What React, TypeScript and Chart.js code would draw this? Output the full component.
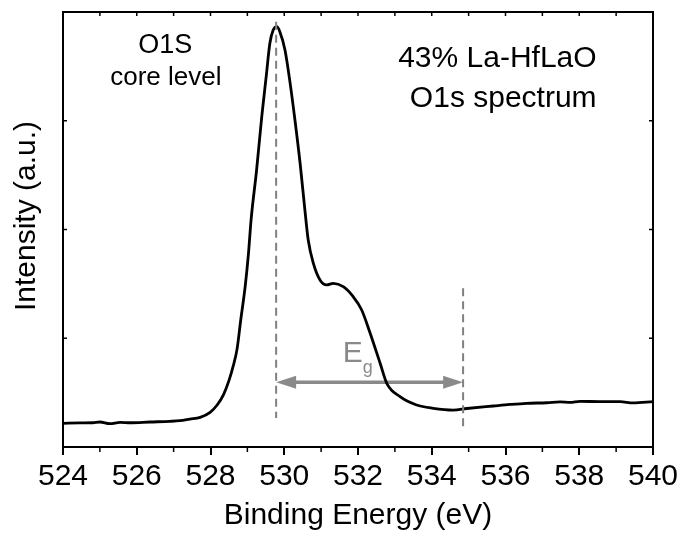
import React, { useEffect, useRef } from 'react';
import { Chart, registerables } from 'chart.js';

Chart.register(...registerables);

const FONT = '"Liberation Sans", Arial, Helvetica, sans-serif';

// Binding energy (eV) of the O1s spectrum trace
const energy = [
  524.0, 524.46, 524.81, 525.0, 525.27, 525.55, 525.82, 526.36, 526.9, 527.17,
  527.44, 527.72, 527.99, 528.18, 528.35, 528.5, 528.62, 528.72, 528.82, 528.94,
  529.03, 529.1, 529.25, 529.39, 529.51, 529.61, 529.7, 529.8, 529.88, 530.02,
  530.16, 530.29, 530.43, 530.56, 530.65, 530.79, 530.97, 531.15, 531.33, 531.6,
  531.87, 532.1, 532.33, 532.6, 532.78, 533.14, 533.59, 534.04, 534.58, 534.95,
  535.67, 536.12, 536.57, 537.12, 537.48, 537.75, 538.02, 538.56, 539.11, 539.46,
  540.0,
];
// Intensity (a.u.)
const intensity = [
  0.218, 0.221, 0.223, 0.23, 0.215, 0.226, 0.223, 0.23, 0.236, 0.242,
  0.257, 0.273, 0.319, 0.386, 0.48, 0.61, 0.75, 0.9, 1.168, 1.474,
  1.781, 2.087, 2.547, 3.037, 3.405, 3.712, 3.834, 3.865, 3.819, 3.651,
  3.344, 3.007, 2.609, 2.179, 1.903, 1.689, 1.536, 1.49, 1.505, 1.474,
  1.382, 1.26, 1.046, 0.77, 0.586, 0.463, 0.386, 0.356, 0.34, 0.354,
  0.377, 0.391, 0.402, 0.407, 0.415, 0.41, 0.42, 0.417, 0.417, 0.405,
  0.417,
];

const xMajorTicks = [524, 526, 528, 530, 532, 534, 536, 538, 540];
const xMinorTicks = [525, 527, 529, 531, 533, 535, 537, 539];
const yFrameTicks = [1, 2, 3];

// Annotation values (data coordinates)
const peakEnergy = 529.78;
const edgeEnergy = 534.85;
const peakLineRange = [3.91, 0.267];
const edgeLineRange = [1.46, 0.156];
const arrowLevel = 0.595;

const noteTexts = ['O1S', 'core level', '43% La-HfLaO', 'O1s spectrum'];
const noteX = [526.77, 526.79, 538.47, 538.47];
const noteY = [3.62, 3.329, 3.497, 3.129];
const noteSize = [27, 26, 30, 30];
const noteAlign = ['center', 'center', 'right', 'right'];

const gapLabelX = 531.585;
const gapLabelY = 0.784;

const overlay = {
  id: 'overlay',
  beforeDatasetsDraw(chart: any) {
    const { ctx, scales } = chart;
    const xs = scales.x;
    const ys = scales.y;
    ctx.save();
    // double arrow
    const x1 = xs.getPixelForValue(peakEnergy);
    const x2 = xs.getPixelForValue(edgeEnergy);
    const y = ys.getPixelForValue(arrowLevel);
    const head = 20;
    const hh = 6.5;
    ctx.strokeStyle = '#8a8a8a';
    ctx.fillStyle = '#8a8a8a';
    ctx.lineWidth = 3.5;
    ctx.beginPath();
    ctx.moveTo(x1 + head - 2, y);
    ctx.lineTo(x2 - head + 2, y);
    ctx.stroke();
    ctx.beginPath();
    ctx.moveTo(x1, y);
    ctx.lineTo(x1 + head, y - hh);
    ctx.lineTo(x1 + head, y + hh);
    ctx.closePath();
    ctx.fill();
    ctx.beginPath();
    ctx.moveTo(x2, y);
    ctx.lineTo(x2 - head, y - hh);
    ctx.lineTo(x2 - head, y + hh);
    ctx.closePath();
    ctx.fill();
    // E_g label
    const lx = xs.getPixelForValue(gapLabelX);
    const ly = ys.getPixelForValue(gapLabelY);
    ctx.textBaseline = 'alphabetic';
    ctx.textAlign = 'left';
    ctx.font = `30px ${FONT}`;
    ctx.fillText('E', lx, ly);
    const w = ctx.measureText('E').width;
    ctx.font = `18px ${FONT}`;
    ctx.fillText('g', lx + w, ly + 11);
    ctx.restore();
  },
  afterDatasetsDraw(chart: any) {
    const { ctx, scales, chartArea } = chart;
    const xs = scales.x;
    const ys = scales.y;
    const { left, right, top, bottom } = chartArea;
    ctx.save();
    // dashed guide lines
    ctx.strokeStyle = '#808080';
    ctx.lineWidth = 2;
    ctx.setLineDash([8, 5]);
    const px = xs.getPixelForValue(peakEnergy);
    ctx.beginPath();
    ctx.moveTo(px, ys.getPixelForValue(peakLineRange[0]));
    ctx.lineTo(px, ys.getPixelForValue(peakLineRange[1]));
    ctx.stroke();
    const ex = xs.getPixelForValue(edgeEnergy);
    ctx.beginPath();
    ctx.moveTo(ex, ys.getPixelForValue(edgeLineRange[0]));
    ctx.lineTo(ex, ys.getPixelForValue(edgeLineRange[1]));
    ctx.stroke();
    ctx.setLineDash([]);

    // frame
    ctx.strokeStyle = '#000';
    ctx.lineWidth = 2;
    ctx.strokeRect(left, top, right - left, bottom - top);

    // minor ticks bottom (outward) and top ticks (inward)
    ctx.lineWidth = 1.5;
    ctx.beginPath();
    xMinorTicks.forEach((v) => {
      const x = xs.getPixelForValue(v);
      ctx.moveTo(x, bottom);
      ctx.lineTo(x, bottom + 5);
    });
    [...xMajorTicks, ...xMinorTicks].forEach((v) => {
      const x = xs.getPixelForValue(v);
      ctx.moveTo(x, top);
      ctx.lineTo(x, top + 4);
    });
    yFrameTicks.forEach((v) => {
      const y = ys.getPixelForValue(v);
      ctx.moveTo(left, y);
      ctx.lineTo(left + 4, y);
      ctx.moveTo(right, y);
      ctx.lineTo(right - 4, y);
    });
    ctx.stroke();

    // text notes
    ctx.fillStyle = '#000';
    ctx.textBaseline = 'alphabetic';
    noteTexts.forEach((t, i) => {
      ctx.font = `${noteSize[i]}px ${FONT}`;
      ctx.textAlign = noteAlign[i] as CanvasTextAlign;
      ctx.fillText(t, xs.getPixelForValue(noteX[i]), ys.getPixelForValue(noteY[i]));
    });

    // y-axis title
    ctx.font = `30px ${FONT}`;
    ctx.textAlign = 'center';
    ctx.textBaseline = 'middle';
    ctx.translate(26.3, ys.getPixelForValue(2) - 13.5);
    ctx.rotate(-Math.PI / 2);
    ctx.fillText('Intensity (a.u.)', 0, 0);
    ctx.restore();
  },
};

export default function App() {
  const ref = useRef<HTMLCanvasElement>(null);
  useEffect(() => {
    document.body.style.margin = '0';
    const canvas = ref.current;
    if (!canvas) return;
    const chart = new Chart(canvas, {
      type: 'line',
      data: {
        datasets: [
          {
            data: energy.map((e, i) => ({ x: e, y: intensity[i] })),
            borderColor: '#000',
            borderWidth: 2.8,
            pointRadius: 0,
            cubicInterpolationMode: 'monotone',
            fill: false,
          },
        ],
      },
      options: {
        animation: false,
        responsive: true,
        maintainAspectRatio: false,
        layout: { padding: { top: 12, right: 26, left: 0, bottom: 0 } },
        plugins: { legend: { display: false }, tooltip: { enabled: false } },
        scales: {
          x: {
            type: 'linear',
            min: 524,
            max: 540,
            afterBuildTicks: (s: any) => {
              s.ticks = xMajorTicks.map((v) => ({ value: v }));
            },
            ticks: {
              font: { family: FONT, size: 30, lineHeight: 1.2 },
              color: '#000',
              padding: 4,
              maxRotation: 0,
              autoSkip: false,
            },
            grid: {
              display: true,
              drawOnChartArea: false,
              drawTicks: true,
              tickLength: 8,
              color: '#000',
              lineWidth: 2,
            },
            border: { display: false },
            title: {
              display: true,
              text: 'Binding Energy (eV)',
              font: { family: FONT, size: 30, lineHeight: 1.2 },
              color: '#000',
              padding: { top: 0, bottom: 2 },
            },
            afterFit: (s: any) => {
              s.height = 89;
              s.paddingLeft = 0;
              s.paddingRight = 0;
            },
          },
          y: {
            type: 'linear',
            min: 0,
            max: 4,
            ticks: { display: false },
            grid: { display: false },
            border: { display: false },
            afterFit: (s: any) => {
              s.width = 63;
              s.paddingTop = 0;
              s.paddingBottom = 0;
            },
          },
        },
      },
      plugins: [overlay],
    });
    return () => chart.destroy();
  }, []);
  return (
    <div style={{ width: 679, height: 536, position: 'relative' }}>
      <canvas ref={ref} />
    </div>
  );
}
